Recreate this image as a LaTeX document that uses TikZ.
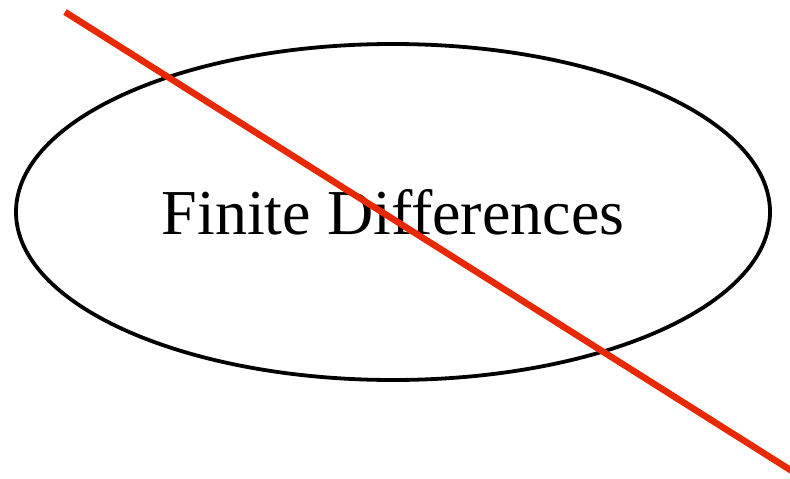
\documentclass[tikz,border=0pt]{standalone}
\usepackage{fontspec}
\setmainfont{Liberation Serif}
\usetikzlibrary{shapes.geometric}
\definecolor{strikered}{RGB}{232,40,0}
\tikzset{oval/.style={ellipse,draw,line width=3.8pt,minimum width=754pt,minimum height=336pt,inner sep=0pt,font=\fontsize{64}{70}\selectfont},strike/.style={draw=strikered,line width=6.5pt}}

\begin{document}
\begin{tikzpicture}[x=1pt,y=-1pt]
\useasboundingbox (0,0) rectangle (790,479);
\node[oval] (fd) at (393,212) {Finite Differences};
\coordinate (s) at (65,12);
\coordinate (e) at (792,471);
\draw[strike] (s) -- (e);
\end{tikzpicture}
\end{document}
